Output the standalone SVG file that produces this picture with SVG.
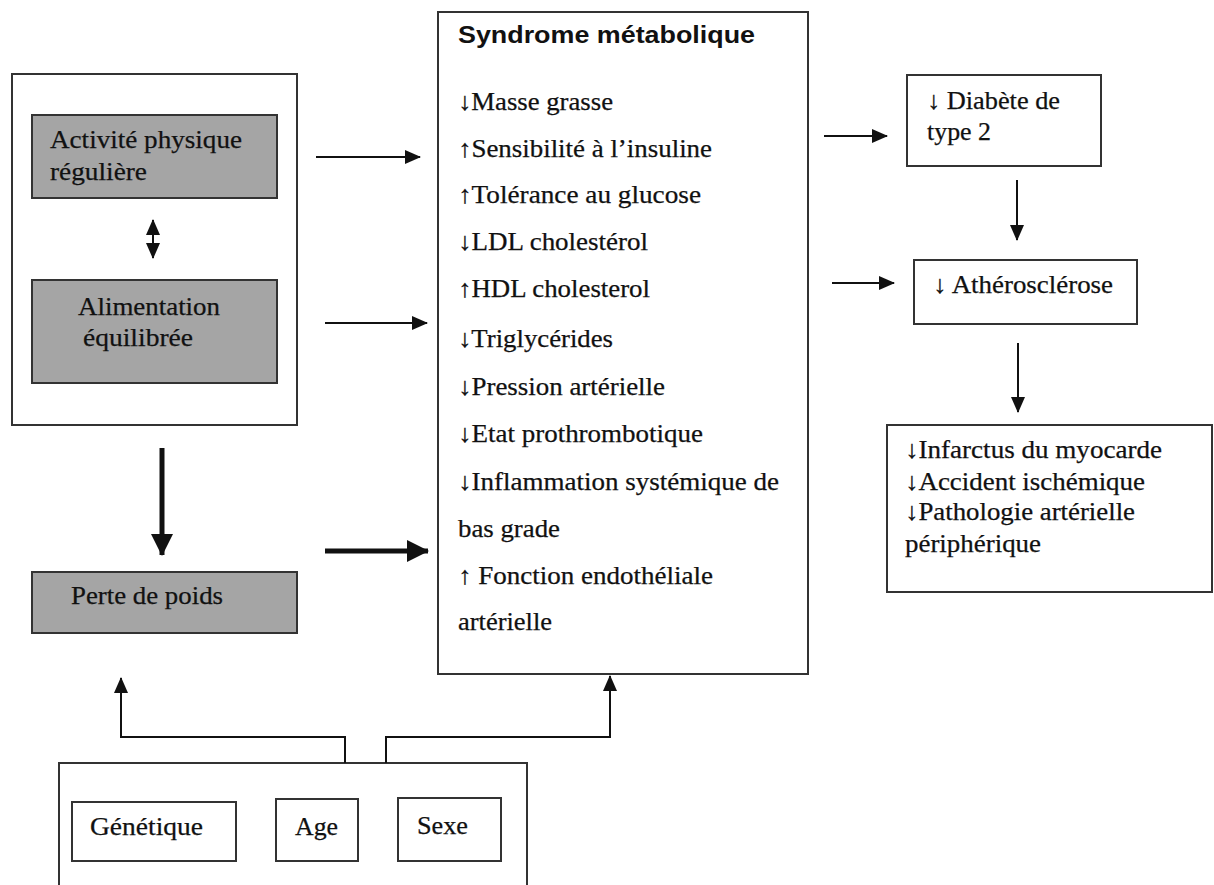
<svg xmlns="http://www.w3.org/2000/svg" width="1214" height="885" viewBox="0 0 1214 885">
<defs>
<style>
.box{fill:#fff;stroke:#333;stroke-width:2}
.gbox{fill:#a5a5a5;stroke:#333;stroke-width:2}
.t{font-family:"Liberation Serif","Times New Roman",serif;font-size:25px;fill:#111;stroke:#111;stroke-width:0.25}
.title{font-family:"Liberation Sans",Arial,sans-serif;font-size:23px;font-weight:bold;fill:#111}
.c{fill:none;stroke:#111;stroke-width:2}
.ck{fill:none;stroke:#111;stroke-width:5}
</style>
<marker id="ah" markerUnits="userSpaceOnUse" markerWidth="16" markerHeight="14" refX="15" refY="7" orient="auto">
<path d="M0,0 L16,7 L0,14 Z" fill="#111"/>
</marker>
<marker id="ahs" markerUnits="userSpaceOnUse" markerWidth="16" markerHeight="14" refX="1" refY="7" orient="auto">
<path d="M16,0 L0,7 L16,14 Z" fill="#111"/>
</marker>
<marker id="ahk" markerUnits="userSpaceOnUse" markerWidth="22" markerHeight="22" refX="21" refY="11" orient="auto">
<path d="M0,0 L22,11 L0,22 Z" fill="#111"/>
</marker>
</defs>
<rect width="1214" height="885" fill="#fff"/>

<g id="lifestyle">
<rect class="box" x="12" y="74" width="285" height="351"/>
</g>
<g id="activite">
<rect class="gbox" x="32" y="115" width="245" height="83"/>
<text class="t" x="50" y="148" textLength="192" lengthAdjust="spacingAndGlyphs">Activité physique</text>
<text class="t" x="50" y="180" textLength="97" lengthAdjust="spacingAndGlyphs">régulière</text>
</g>
<g id="alimentation">
<rect class="gbox" x="32" y="280" width="245" height="103"/>
<text class="t" x="78" y="315" textLength="142" lengthAdjust="spacingAndGlyphs">Alimentation</text>
<text class="t" x="83" y="346" textLength="110" lengthAdjust="spacingAndGlyphs">équilibrée</text>
</g>
<g id="perte">
<rect class="gbox" x="32" y="572" width="265" height="61"/>
<text class="t" x="71" y="604" textLength="152" lengthAdjust="spacingAndGlyphs">Perte de poids</text>
</g>

<g id="syndrome">
<rect class="box" x="438" y="12" width="370" height="662"/>
<text class="title" x="458" y="43" textLength="297" lengthAdjust="spacingAndGlyphs">Syndrome métabolique</text>
<text class="t" x="458" y="110" textLength="155" lengthAdjust="spacingAndGlyphs">↓Masse grasse</text>
<text class="t" x="458" y="157" textLength="254" lengthAdjust="spacingAndGlyphs">↑Sensibilité à l’insuline</text>
<text class="t" x="458" y="203" textLength="243" lengthAdjust="spacingAndGlyphs">↑Tolérance au glucose</text>
<text class="t" x="458" y="250" textLength="190" lengthAdjust="spacingAndGlyphs">↓LDL cholestérol</text>
<text class="t" x="458" y="297" textLength="192" lengthAdjust="spacingAndGlyphs">↑HDL cholesterol</text>
<text class="t" x="458" y="347" textLength="155" lengthAdjust="spacingAndGlyphs">↓Triglycérides</text>
<text class="t" x="458" y="395" textLength="207" lengthAdjust="spacingAndGlyphs">↓Pression artérielle</text>
<text class="t" x="458" y="442" textLength="245" lengthAdjust="spacingAndGlyphs">↓Etat prothrombotique</text>
<text class="t" x="458" y="490" textLength="321" lengthAdjust="spacingAndGlyphs">↓Inflammation systémique de</text>
<text class="t" x="458" y="537" textLength="102" lengthAdjust="spacingAndGlyphs">bas grade</text>
<text class="t" x="458" y="584" textLength="255" lengthAdjust="spacingAndGlyphs">↑ Fonction endothéliale</text>
<text class="t" x="458" y="630" textLength="94" lengthAdjust="spacingAndGlyphs">artérielle</text>
</g>

<g id="diabete">
<rect class="box" x="907" y="75" width="194" height="91"/>
<text class="t" x="927" y="109" textLength="133" lengthAdjust="spacingAndGlyphs">↓ Diabète de</text>
<text class="t" x="927" y="140" textLength="64" lengthAdjust="spacingAndGlyphs">type 2</text>
</g>
<g id="atherosclerose">
<rect class="box" x="914" y="260" width="223" height="64"/>
<text class="t" x="933" y="293" textLength="180" lengthAdjust="spacingAndGlyphs">↓ Athérosclérose</text>
</g>
<g id="complications">
<rect class="box" x="887" y="425" width="325" height="167"/>
<text class="t" x="905" y="458" textLength="257" lengthAdjust="spacingAndGlyphs">↓Infarctus du myocarde</text>
<text class="t" x="905" y="490" textLength="240" lengthAdjust="spacingAndGlyphs">↓Accident ischémique</text>
<text class="t" x="905" y="520" textLength="230" lengthAdjust="spacingAndGlyphs">↓Pathologie artérielle</text>
<text class="t" x="905" y="552" textLength="136" lengthAdjust="spacingAndGlyphs">périphérique</text>
</g>

<g id="facteurs">
<rect class="box" x="59" y="763" width="468" height="140"/>
</g>
<g id="genetique">
<rect class="box" x="72" y="802" width="164" height="59"/>
<text class="t" x="90" y="835" textLength="113" lengthAdjust="spacingAndGlyphs">Génétique</text>
</g>
<g id="age">
<rect class="box" x="276" y="799" width="82" height="62"/>
<text class="t" x="295" y="835" textLength="43" lengthAdjust="spacingAndGlyphs">Age</text>
</g>
<g id="sexe">
<rect class="box" x="398" y="798" width="103" height="63"/>
<text class="t" x="417" y="834" textLength="51" lengthAdjust="spacingAndGlyphs">Sexe</text>
</g>

<g id="connectors">
<line class="c" x1="153" y1="220" x2="153" y2="258" marker-start="url(#ahs)" marker-end="url(#ah)"/>
<line class="c" x1="316" y1="157" x2="420" y2="157" marker-end="url(#ah)"/>
<line class="c" x1="325" y1="323" x2="427" y2="323" marker-end="url(#ah)"/>
<line class="ck" x1="162" y1="448" x2="162" y2="555" marker-end="url(#ahk)"/>
<line class="ck" x1="325" y1="551" x2="428" y2="551" marker-end="url(#ahk)"/>
<line class="c" x1="824" y1="136" x2="887" y2="136" marker-end="url(#ah)"/>
<line class="c" x1="1017" y1="180" x2="1017" y2="240" marker-end="url(#ah)"/>
<line class="c" x1="832" y1="283" x2="894" y2="283" marker-end="url(#ah)"/>
<line class="c" x1="1018" y1="343" x2="1018" y2="412" marker-end="url(#ah)"/>
<polyline class="c" points="345,763 345,737 121,737 121,678" marker-end="url(#ah)"/>
<polyline class="c" points="386,763 386,737 610,737 610,676" marker-end="url(#ah)"/>
</g>
</svg>
